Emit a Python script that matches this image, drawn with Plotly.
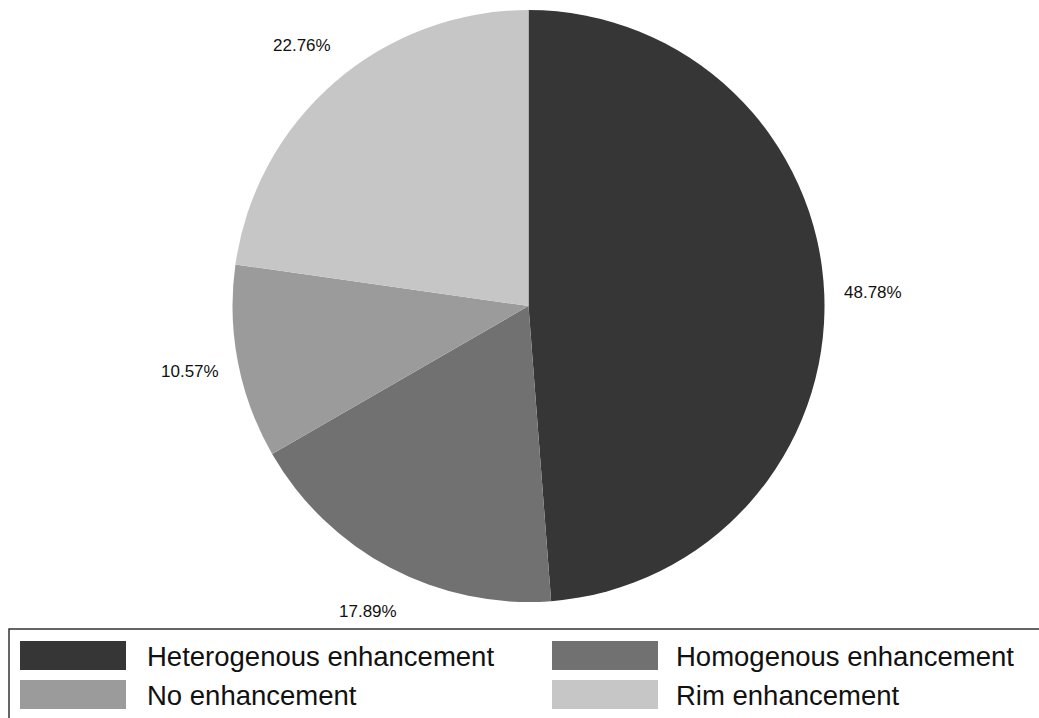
import math
import plotly.graph_objects as go

# Enhancement pattern shares (%)
categories = ["Heterogenous enhancement", "Homogenous enhancement", "No enhancement", "Rim enhancement"]
shares = [48.78, 17.89, 10.57, 22.76]
colors = ["#363636", "#717171", "#9b9b9b", "#c6c6c6"]

W, H = 1039, 718
cx, cy, R = 528.5, 306.0, 296.0  # pie centre and radius in pixels

fig = go.Figure(go.Pie(
    labels=categories,
    values=shares,
    sort=False,
    direction="clockwise",
    rotation=0,
    textinfo="none",
    hoverinfo="label+percent",
    marker=dict(colors=colors, line=dict(width=0)),
    domain=dict(x=[(cx - R) / W, (cx + R) / W], y=[1 - (cy + R) / H, 1 - (cy - R) / H]),
    showlegend=False,
))

# Percentage labels placed just outside each slice, at its mid angle
annotations = []
total = sum(shares)
cum = 0.0
label_r = R * 1.1655
for v in shares:
    mid = (cum + v / 2) / total * 2 * math.pi
    cum += v
    px = cx + label_r * math.sin(mid)
    py = cy - label_r * math.cos(mid)
    annotations.append(dict(
        x=px / W, y=1 - py / H, xref="paper", yref="paper",
        text=f"{v:.2f}%", showarrow=False,
        xanchor="center", yanchor="middle",
        font=dict(family="Liberation Sans, Arial, sans-serif", size=17, color="#111111"),
    ))

# Legend drawn as a boxed two-column key
shapes = [dict(type="rect", xref="paper", yref="paper",
               x0=9 / W, x1=1050 / W, y0=1 - 730 / H, y1=1 - 629 / H,
               line=dict(color="#333333", width=1.5), fillcolor="rgba(0,0,0,0)", layer="above")]
col_swatch_x = [20, 552]
col_text_x = [145, 674]
row_y = [655.5, 694.5]
sw_w, sw_h = 106, 29
for i, (name, c) in enumerate(zip(categories, colors)):
    col, row = i % 2, i // 2
    x0 = col_swatch_x[col]
    yc = row_y[row]
    shapes.append(dict(type="rect", xref="paper", yref="paper",
                       x0=x0 / W, x1=(x0 + sw_w) / W,
                       y0=1 - (yc + sw_h / 2) / H, y1=1 - (yc - sw_h / 2) / H,
                       line=dict(width=0), fillcolor=c))
    annotations.append(dict(
        x=col_text_x[col] / W, y=1 - (yc + 1) / H, xref="paper", yref="paper",
        text=name, showarrow=False, xanchor="left", yanchor="middle",
        font=dict(family="Liberation Sans, Arial, sans-serif", size=27.5, color="#111111"),
    ))

fig.update_layout(
    width=W, height=H,
    margin=dict(l=0, r=0, t=0, b=0),
    paper_bgcolor="white", plot_bgcolor="white",
    annotations=annotations, shapes=shapes,
)

fig.write_html("out.html")
